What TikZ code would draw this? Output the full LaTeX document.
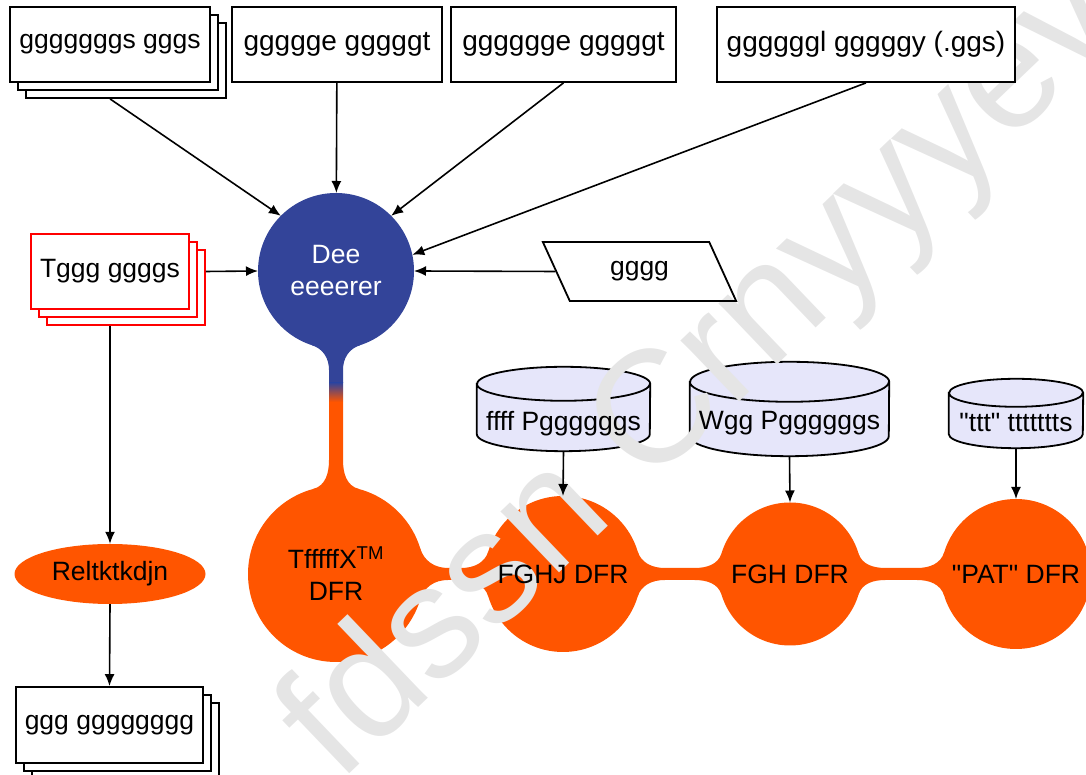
\documentclass[tikz,border=0pt]{standalone}
\usepackage{fontspec}
\setmainfont{Liberation Sans}
\usetikzlibrary{calc, arrows.meta, shapes.geometric, shadows, backgrounds}

\pgfdeclarelayer{marks}
\pgfsetlayers{background,marks,main}

\definecolor{deeblue}{RGB}{51,68,153}
\definecolor{dfrorange}{RGB}{255,85,0}
\definecolor{drumfill}{RGB}{230,230,250}
\definecolor{wmgrey}{RGB}{229,229,229}

\tikzset{
  txt/.style={font=\fontsize{26.5}{32}\selectfont},
  box/.style={txt, draw, line width=1.8pt, fill=white, minimum height=75pt, inner sep=0pt},
  bigbox/.style={box, font=\fontsize{28}{32}\selectfont},
  stack/.style={box, copy shadow={shadow xshift=16pt, shadow yshift=-16pt},
    copy shadow={shadow xshift=8pt, shadow yshift=-8pt}},
  dfr/.style={txt, circle, inner sep=0pt, outer sep=0pt, align=center},
  drum/.style={txt, inner sep=0pt, minimum width=#1},
  link/.style={line width=1.6pt, -{Latex[length=12pt,width=10pt]}},
}

\begin{document}
\begin{tikzpicture}[x=1pt, y=1pt]
\useasboundingbox (0,0) rectangle (1086,775);
\clip (0,0) rectangle (1086,775);

% inputs
\node[stack, minimum width=200pt] (ggs) at (110,730.5) {gggggggs gggs};
\node[bigbox, minimum width=210pt] (hdr) at (337,730.5) {ggggge gggggt};
\node[bigbox, minimum width=225pt] (tmpl) at (563.5,730.5) {gggggge gggggt};
\node[bigbox, minimum width=298pt] (dict) at (866,730.5) {ggggggl gggggy (.ggs)};
\node[stack, draw=red, minimum width=158pt] (tggg) at (110,503.5) {Tggg ggggs};
\node[txt, trapezium, trapezium left angle=120, trapezium right angle=60, trapezium stretches=true,
  draw, line width=1.8pt, minimum width=194pt, minimum height=59pt, inner sep=0pt] (gggg) at (639.5,503.5) {gggg};

% generator
\node[txt, circle, fill=deeblue, text=white, inner sep=0pt, outer sep=0pt, minimum size=156pt, align=center]
  (dee) at (336,504) {Dee\\eeeerer};

% left column
\node[txt, ellipse, fill=dfrorange, minimum width=191pt, minimum height=60pt, inner sep=0pt] (relt) at (110,201) {Reltktkdjn};
\node[stack, minimum width=187pt, minimum height=76pt] (ggg) at (109.5,50) {ggg gggggggg};

% chain
\node[dfr, minimum size=176pt] (tff) at (336,201) {TfffffX\textsuperscript{TM}\\DFR};
\node[dfr, minimum size=156pt] (fghj) at (563,201) {FGHJ DFR};
\node[dfr, minimum size=143pt] (fgh) at (790,201) {FGH DFR};
\node[dfr, minimum size=150pt] (pat) at (1016,201) {\textquotedbl PAT\textquotedbl{} DFR};

% databases
\node[drum=173pt, text height=63.5pt, text depth=20.5pt] (ffff) at (563.5,366) {ffff Pggggggs};
\node[drum=199pt, text height=68pt, text depth=26pt] (wgg) at (789.5,366) {Wgg Pggggggs};
\node[drum=134pt, text height=53pt, text depth=16pt] (ttt) at (1016,361.5) {\textquotedbl ttt\textquotedbl{} ttttttts};

\begin{scope}[on background layer]
\foreach \c/\rx/\ry in {ffff/86.5/17, wgg/99.5/20, ttt/67/14}
  \filldraw[fill=drumfill, line width=1.8pt]
    let \p1=(\c.north west), \p2=(\c.south east) in
    (\x1,\y1-\ry) -- (\x1,\y2+\ry)
    arc[start angle=180, end angle=360, x radius=\rx, y radius=\ry]
    -- (\x2,\y1-\ry)
    arc[start angle=0, end angle=180, x radius=\rx, y radius=\ry] -- cycle
    (\x1,\y1-\ry) arc[start angle=180, end angle=360, x radius=\rx, y radius=\ry];

% DFR discs
\foreach \d in {tff, fghj, fgh, pat}
  \fill[dfrorange] let \p1=($(\d.east)-(\d.center)$) in (\d.center) circle[radius=\x1];

% stem from generator down to the chain
\fill[deeblue] (dee.252) to[out=-18,in=90] ($(dee.south)+(-7,-21)$) -- ($(dee.south)+(-7,-34)$)
  -- ($(dee.south)+(7,-34)$) -- ($(dee.south)+(7,-21)$) to[out=90,in=198] (dee.288) -- cycle;
\shade[top color=deeblue, bottom color=dfrorange] ($(dee.south)+(-7,-34)$) rectangle ($(dee.south)+(7,-53)$);
\fill[dfrorange] ($(dee.south)+(-7,-53)$) -- ($(tff.north)+(-7,26)$) to[out=-90,in=15] (tff.105)
  -- (tff.75) to[out=165,in=-90] ($(tff.north)+(7,26)$) -- ($(dee.south)+(7,-53)$) -- cycle;

% necks between the DFR nodes
\foreach \a/\b in {tff/fghj, fghj/fgh, fgh/pat}
  \fill[dfrorange] (\a.17) to[out=-73,in=180] ($(\a.east)+(24,6)$) -- ($(\b.west)+(-24,6)$)
    to[out=0,in=-107] (\b.163) -- (\b.197) to[out=107,in=0] ($(\b.west)+(-24,-6)$)
    -- ($(\a.east)+(24,-6)$) to[out=180,in=73] (\a.343) -- cycle;
\end{scope}

% watermark, above the fills and under the texts
\begin{pgfonlayer}{marks}
\node[rotate=43.7, text=wmgrey, font=\fontsize{160}{160}\selectfont] (wm) at (706,399) {fdssn Crnyyyev};
\end{pgfonlayer}

% arrows
\draw[link] ($(ggs.south)+(0,-16)$) -- (dee.135);
\draw[link] (hdr) -- (dee);
\draw[link] (tmpl.south) -- (dee.45);
\draw[link] (dict.south) -- (dee.12);
\draw[link] (gggg.west) -- (dee.east);
\draw[link] ($(tggg.east)+(16,0)$) -- (dee.west);
\draw[link] ($(tggg.south)+(0,-16)$) -- (relt.north);
\draw[link] (relt.south) -- (ggg.north);
\draw[link] (ffff.south) -- (fghj.north);
\draw[link] (wgg.south) -- (fgh.north);
\draw[link] (ttt.south) -- (pat.north);

\end{tikzpicture}
\end{document}
